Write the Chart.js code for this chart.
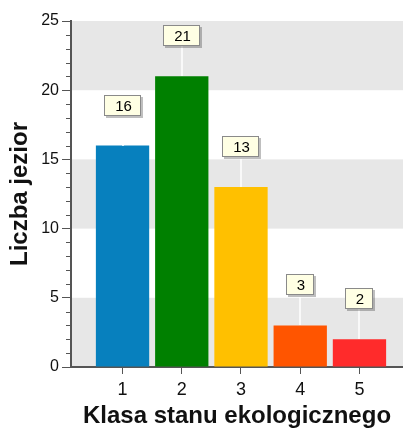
<!DOCTYPE html>
<html>
<head>
<meta charset="utf-8">
<style>
  html, body { margin: 0; padding: 0; background: #fff; overflow: hidden; }
  canvas { display: block; }
</style>
<script src="https://cdn.jsdelivr.net/npm/chart.js@4.4.1/dist/chart.umd.min.js"></script>
</head>
<body>
<canvas id="chart" width="403" height="430"></canvas>
<script>
// Ecological status classes and the number of lakes in each
const classes = [1, 2, 3, 4, 5];
const lakeCounts = [16, 21, 13, 3, 2];
const barColors = ['#0780be', '#008000', '#ffc000', '#ff5500', '#ff2b2b'];
const xTitle = 'Klasa stanu ekologicznego';
const yTitle = 'Liczba jezior';

const FONT = '"Liberation Sans", Arial, sans-serif';
const AXIS = '#555555';

// Alternating grey bands behind the plot (0-5, 10-15, 20-25)
const bands = {
  id: 'bands',
  beforeDraw(chart) {
    const { ctx, chartArea: a, scales: { y } } = chart;
    ctx.save();
    ctx.fillStyle = '#e7e7e7';
    for (let v = 0; v < y.max; v += 10) {
      const top = y.getPixelForValue(Math.min(v + 5, y.max));
      const bottom = y.getPixelForValue(v);
      ctx.fillRect(a.left, top, a.right - a.left, bottom - top);
    }
    ctx.restore();
  }
};

// Short minor ticks on the value axis, one per unit
const minorTicks = {
  id: 'minorTicks',
  afterDraw(chart) {
    const { ctx, chartArea: a, scales: { y } } = chart;
    ctx.save();
    ctx.strokeStyle = AXIS;
    ctx.lineWidth = 1;
    ctx.beginPath();
    for (let v = y.min; v <= y.max; v++) {
      if (v % 5 === 0) continue;
      const py = Math.round(y.getPixelForValue(v)) + 0.5;
      ctx.moveTo(a.left - 5, py);
      ctx.lineTo(a.left, py);
    }
    ctx.stroke();
    ctx.restore();
  }
};

// Callout boxes with a leader line above each bar
const callouts = {
  id: 'callouts',
  afterDatasetsDraw(chart) {
    const { ctx } = chart;
    const meta = chart.getDatasetMeta(0);
    ctx.save();
    ctx.font = '15px ' + FONT;
    meta.data.forEach((bar, i) => {
      const text = String(lakeCounts[i]);
      const w = Math.round(ctx.measureText(text).width) + 20;
      const h = 21;
      const cx = Math.round(bar.x);
      const top = Math.round(bar.y);
      const by = top - 30 - h;
      const bx = cx - Math.round(w / 2);

      ctx.strokeStyle = '#ffffff';
      ctx.lineWidth = 1.5;
      ctx.beginPath();
      ctx.moveTo(cx, by + h);
      ctx.lineTo(cx, top);
      ctx.stroke();

      ctx.fillStyle = 'rgba(0,0,0,0.25)';
      ctx.fillRect(bx + 2, by + 2, w, h);
      ctx.fillStyle = '#ffffe4';
      ctx.fillRect(bx, by, w, h);
      ctx.strokeStyle = '#8a8a8a';
      ctx.lineWidth = 1;
      ctx.strokeRect(bx + 0.5, by + 0.5, w - 1, h - 1);

      ctx.fillStyle = '#000';
      ctx.textAlign = 'center';
      ctx.textBaseline = 'middle';
      ctx.fillText(text, bx + w / 2 + 1, by + h / 2 + 1);
    });
    ctx.restore();
  }
};

new Chart(document.getElementById('chart'), {
  type: 'bar',
  data: {
    datasets: [{
      data: classes.map((c, i) => ({ x: c, y: lakeCounts[i] })),
      backgroundColor: barColors,
      borderWidth: 0,
      barPercentage: 0.9,
      categoryPercentage: 1
    }]
  },
  options: {
    responsive: false,
    animation: false,
    devicePixelRatio: 1,
    layout: { padding: { top: 21, left: 0, right: 0, bottom: 0 } },
    plugins: {
      legend: { display: false },
      tooltip: { enabled: false },
      title: { display: false }
    },
    scales: {
      x: {
        type: 'linear',
        min: 0.13,
        max: 5.735,
        offset: false,
        grid: {
          offset: false, drawOnChartArea: false, drawTicks: true,
          tickLength: 7, tickColor: AXIS, tickWidth: 1
        },
        border: { display: true, color: AXIS, width: 2 },
        ticks: {
          stepSize: 1, includeBounds: false, autoSkip: false, maxRotation: 0,
          padding: 5, color: '#111', font: { family: FONT, size: 18 }
        },
        title: {
          display: true, text: xTitle, color: '#111',
          font: { family: FONT, size: 24, weight: 'bold', lineHeight: 1.1 },
          padding: { top: 0, bottom: 0 }
        },
        afterFit(scale) { scale.height = 63; }
      },
      y: {
        min: 0,
        max: 25,
        grid: { drawOnChartArea: false, drawTicks: true, tickLength: 9, tickColor: AXIS, tickWidth: 1 },
        border: { display: true, color: AXIS, width: 2 },
        ticks: { stepSize: 5, padding: 3, color: '#111', font: { family: FONT, size: 16 } },
        title: {
          display: true, text: yTitle, color: '#111',
          font: { family: FONT, size: 24, weight: 'bold', lineHeight: 1.2 },
          padding: { top: 6, bottom: 0 }
        },
        afterFit(scale) { scale.width = 71; }
      }
    }
  },
  plugins: [bands, minorTicks, callouts]
});
</script>
</body>
</html>
